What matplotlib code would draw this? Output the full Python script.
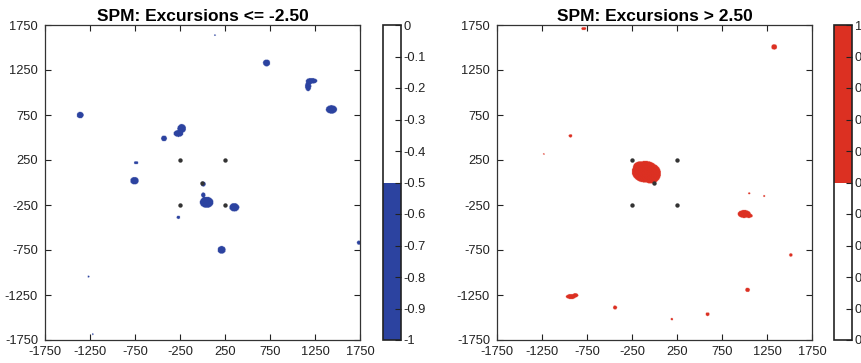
import numpy as np
import matplotlib
matplotlib.use("Agg")
import matplotlib.pyplot as plt
from matplotlib.colors import ListedColormap

plt.rcParams['font.family'] = ['Liberation Sans', 'DejaVu Sans']
plt.rcParams['axes.unicode_minus'] = False

# ---- data ----
ticks = [-1750, -1250, -750, -250, 250, 750, 1250, 1750]
dots_x = [-250, 250, -250, 250, 0]
dots_y = [250, 250, -250, -250, 0]

# negative excursion blobs (centre x, centre y, radius x, radius y)
neg_x = [-1361, 713, 1213, 1176, 1435, -231, -268, -428, -739, -757, 9, 46, 9, 354, -268, 213, 1740, 139, -1268, -1220]
neg_y = [750, 1331, 1131, 1072, 813, 602, 546, 491, 220, 20, -17, -220, -139, -276, -387, -750, -669, 1639, -1046, -1687]
neg_rx = [38, 40, 64, 34, 62, 48, 54, 32, 24, 46, 26, 76, 24, 55, 20, 45, 22, 9, 11, 9]
neg_ry = [36, 38, 32, 56, 47, 48, 38, 32, 17, 42, 28, 62, 28, 47, 18, 43, 22, 9, 11, 9]

# positive excursion blobs
pos_x = [-102, -40, -150, 998, 1050, 1332, -787, -935, -1231, 1054, 1221, 1517, 1035, -928, -880, -439, 591, 194]
pos_y = [120, 100, 175, -350, -370, 1509, 1713, 520, 317, -120, -150, -806, -1195, -1269, -1255, -1391, -1465, -1521]
pos_rx = [150, 112, 88, 72, 42, 32, 27, 20, 9, 11, 11, 18, 26, 57, 32, 22, 22, 13]
pos_ry = [120, 112, 62, 44, 24, 30, 17, 18, 9, 11, 11, 18, 24, 28, 24, 22, 20, 13]

blue = '#2c43a0'
red = '#dc3022'

# ---- build fields ----
n = 700
g = np.linspace(-1750, 1750, n)
X, Y = np.meshgrid(g, g)

def mask_from(xs, ys, rxs, rys):
    m = np.zeros_like(X, dtype=bool)
    for cx, cy, rx, ry in zip(xs, ys, rxs, rys):
        m |= ((X - cx) / rx) ** 2 + ((Y - cy) / ry) ** 2 <= 1.0
    return m

neg_field = np.where(mask_from(neg_x, neg_y, neg_rx, neg_ry), -1.0, 0.0)
pos_field = np.where(mask_from(pos_x, pos_y, pos_rx, pos_ry), 1.0, 0.0)

fig = plt.figure(figsize=(8.62, 3.63), dpi=100)
W, H = 862.0, 363.0

def style_ax(ax):
    ax.set_xlim(-1750, 1750)
    ax.set_ylim(-1750, 1750)
    ax.set_xticks(ticks)
    ax.set_yticks(ticks)
    ax.tick_params(direction='in', top=True, right=True, length=4, width=0.8,
                   labelsize=9.3, colors='#222222')
    ax.tick_params(axis='x', pad=4)
    ax.tick_params(axis='y', pad=5)
    for s in ax.spines.values():
        s.set_linewidth(0.9)
        s.set_color('#333333')

panels = [
    (45, 383, neg_field, ListedColormap([blue, 'white']), -1, 0, 'SPM: Excursions <= -2.50'),
    (497, 834, pos_field, ListedColormap(['white', red]), 0, 1, 'SPM: Excursions > 2.50'),
]

for axl, cbl, field, cmap, vmin, vmax, title in panels:
    ax = fig.add_axes([axl / W, 23 / H, 315 / W, 315 / H])
    im = ax.imshow(field, extent=[-1750, 1750, -1750, 1750], origin='lower',
                   cmap=cmap, vmin=vmin, vmax=vmax, interpolation='antialiased', aspect='auto')
    ax.scatter(dots_x, dots_y, s=10, color='#333333', zorder=3, linewidths=0)
    style_ax(ax)
    ax.set_title(title, fontsize=12.5, fontweight='bold', pad=3)

    cax = fig.add_axes([cbl / W, 23 / H, 18 / W, 315 / H])
    cb = fig.colorbar(im, cax=cax)
    vals = np.round(np.linspace(vmin, vmax, 11), 1)
    cb.set_ticks(vals)
    cb.ax.set_yticklabels([('%g' % v) for v in vals])
    cb.ax.tick_params(direction='in', length=4, width=0.8, labelsize=9.3, colors='#222222', pad=2)
    cb.outline.set_linewidth(1.2)
    cb.outline.set_edgecolor('#222222')

fig.savefig('out.png', dpi=100)
